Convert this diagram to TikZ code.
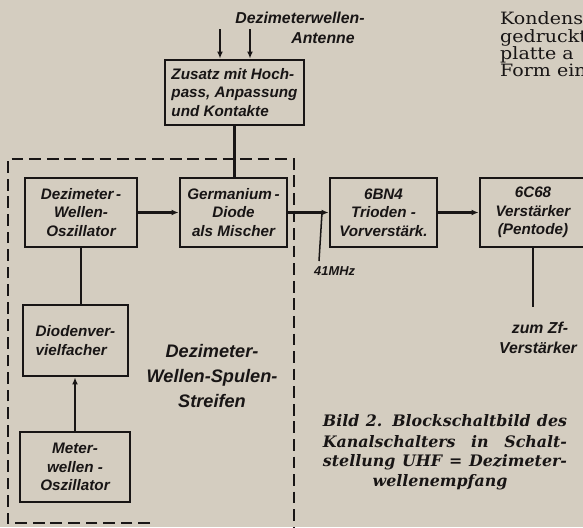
\documentclass[tikz,border=0pt]{standalone}
\usepackage{fontspec}
\setmainfont{Liberation Sans}
\newfontfamily\serifbody{DejaVu Serif}
\usepackage{tikz}
\usetikzlibrary{arrows.meta}
\definecolor{paper}{RGB}{212,205,192}
\definecolor{ink}{RGB}{24,21,21}
\tikzset{
    block/.style={draw=ink, line width=2.4pt, minimum height=2.07cm, inner sep=0pt, align=center,
        text=ink, font=\fontsize{13}{15.8}\selectfont\bfseries\itshape},
    lbl/.style={inner sep=0pt, text=ink, align=center,
        font=\fontsize{13.5}{16}\selectfont\bfseries\itshape},
    signal/.style={draw=ink, line width=1.9pt},
    feed/.style={signal, -{Latex[length=6pt,width=5pt]}},
    spulenrand/.style={draw=ink, line width=1.8pt, dash pattern=on 10pt off 5pt},
    caption/.style={inner sep=0pt, text=ink, font=\serifbody\fontsize{13.5}{15}\selectfont\bfseries\itshape},
    bodytext/.style={inner sep=0pt, anchor=base west, text=ink, font=\serifbody\fontsize{14.5}{16}\selectfont},
}

\begin{document}
\begin{tikzpicture}[x=0.03cm, y=-0.03cm]
\useasboundingbox (0,0) rectangle (583,527);
\fill[paper] (0,0) rectangle (583,527);
\clip (0,0) rectangle (583,527);

% running text of the page
\node[bodytext] (txta) at (500,24) {\scalebox{1.12}[1]{Kondens}};
\node[bodytext] (txtb) at (500,42) {\scalebox{1.12}[1]{gedruckte}};
\node[bodytext] (txtc) at (500,59) {\scalebox{1.12}[1]{platte a}};
\node[bodytext] (txtd) at (500,76) {\scalebox{1.12}[1]{Form ein}};

% antenna input
\node[lbl] (antname) at (300,18) {Dezimeterwellen-};
\node[lbl] (antword) at (323,38) {Antenne};
\coordinate (anta) at (220,29);
\coordinate (antb) at (250,29);

\node[block, minimum width=4.17cm, minimum height=1.95cm, align=left] (zusatz) at (234.5,92.5)
    {Zusatz mit Hoch-\\pass, Anpassung\\und Kontakte};

% dashed outline of the coil strip
\draw[spulenrand] (150,523) -- (8,523) -- (8,159) -- (294,159) -- (294,540);

\node[block, minimum width=3.36cm] (dosz) at (81,212.5) {Dezimeter\,-\\Wellen-\\Oszillator};
\node[block, minimum width=3.21cm] (germ) at (233.5,212.5) {Germanium\,-\\Diode\\als Mischer};
\node[block, minimum width=3.21cm] (triode) at (383.5,212.5) {6BN4\\Trioden -\\Vorverstärk.};
\node[block, minimum width=3.18cm] (pentode) at (533,212.5) {6C68\\Verstärker\\(Pentode)};
\node[block, minimum width=3.15cm, minimum height=2.13cm, align=left] (vervf) at (75.5,340.5)
    {Diodenver-\\vielfacher};
\node[block, minimum width=3.30cm, minimum height=2.10cm] (meter) at (75,467)
    {Meter-\\wellen -\\Oszillator};

\node[lbl, font=\fontsize{15.5}{21.5}\selectfont\bfseries\itshape] (spulen) at (212,376)
    {Dezimeter-\\Wellen-Spulen-\\Streifen};

\draw[feed] (anta) -- (anta |- zusatz.north);
\draw[feed] (antb) -- (antb |- zusatz.north);
\draw[signal] (zusatz.south) -- (zusatz.south |- germ.north);
\draw[feed] (dosz) -- (germ);
\draw[feed] (germ) -- (triode);
\draw[feed] (triode) -- (pentode);
\draw[signal] (dosz.south) -- (dosz.south |- vervf.north);
\draw[feed] (meter.north) -- (meter.north |- vervf.south);

% IF tap and output
\coordinate (tap) at (322,212.5);
\coordinate (tapend) at (319,261);
\draw[signal, line width=1.3pt] (tap) -- (tapend);
\node[lbl, font=\fontsize{11}{13}\selectfont\bfseries\itshape, anchor=west] (mhz) at (314,271) {41MHz};
\coordinate (zfend) at (533,307);
\draw[signal] (pentode.south) -- (zfend);
\node[lbl] (zfa) at (540,328) {zum Zf-};
\node[lbl] (zfb) at (538,348) {Verstärker};

% figure caption
\node[caption] (capa) at (445,421) {\makebox[7.32cm][s]{Bild 2. Blockschaltbild des}};
\node[caption] (capb) at (445,441.5) {\makebox[7.32cm][s]{Kanalschalters in Schalt-}};
\node[caption] (capc) at (445,462) {\makebox[7.32cm][s]{stellung UHF = Dezimeter-}};
\node[caption] (capd) at (440,482.5) {wellenempfang};
\end{tikzpicture}
\end{document}
